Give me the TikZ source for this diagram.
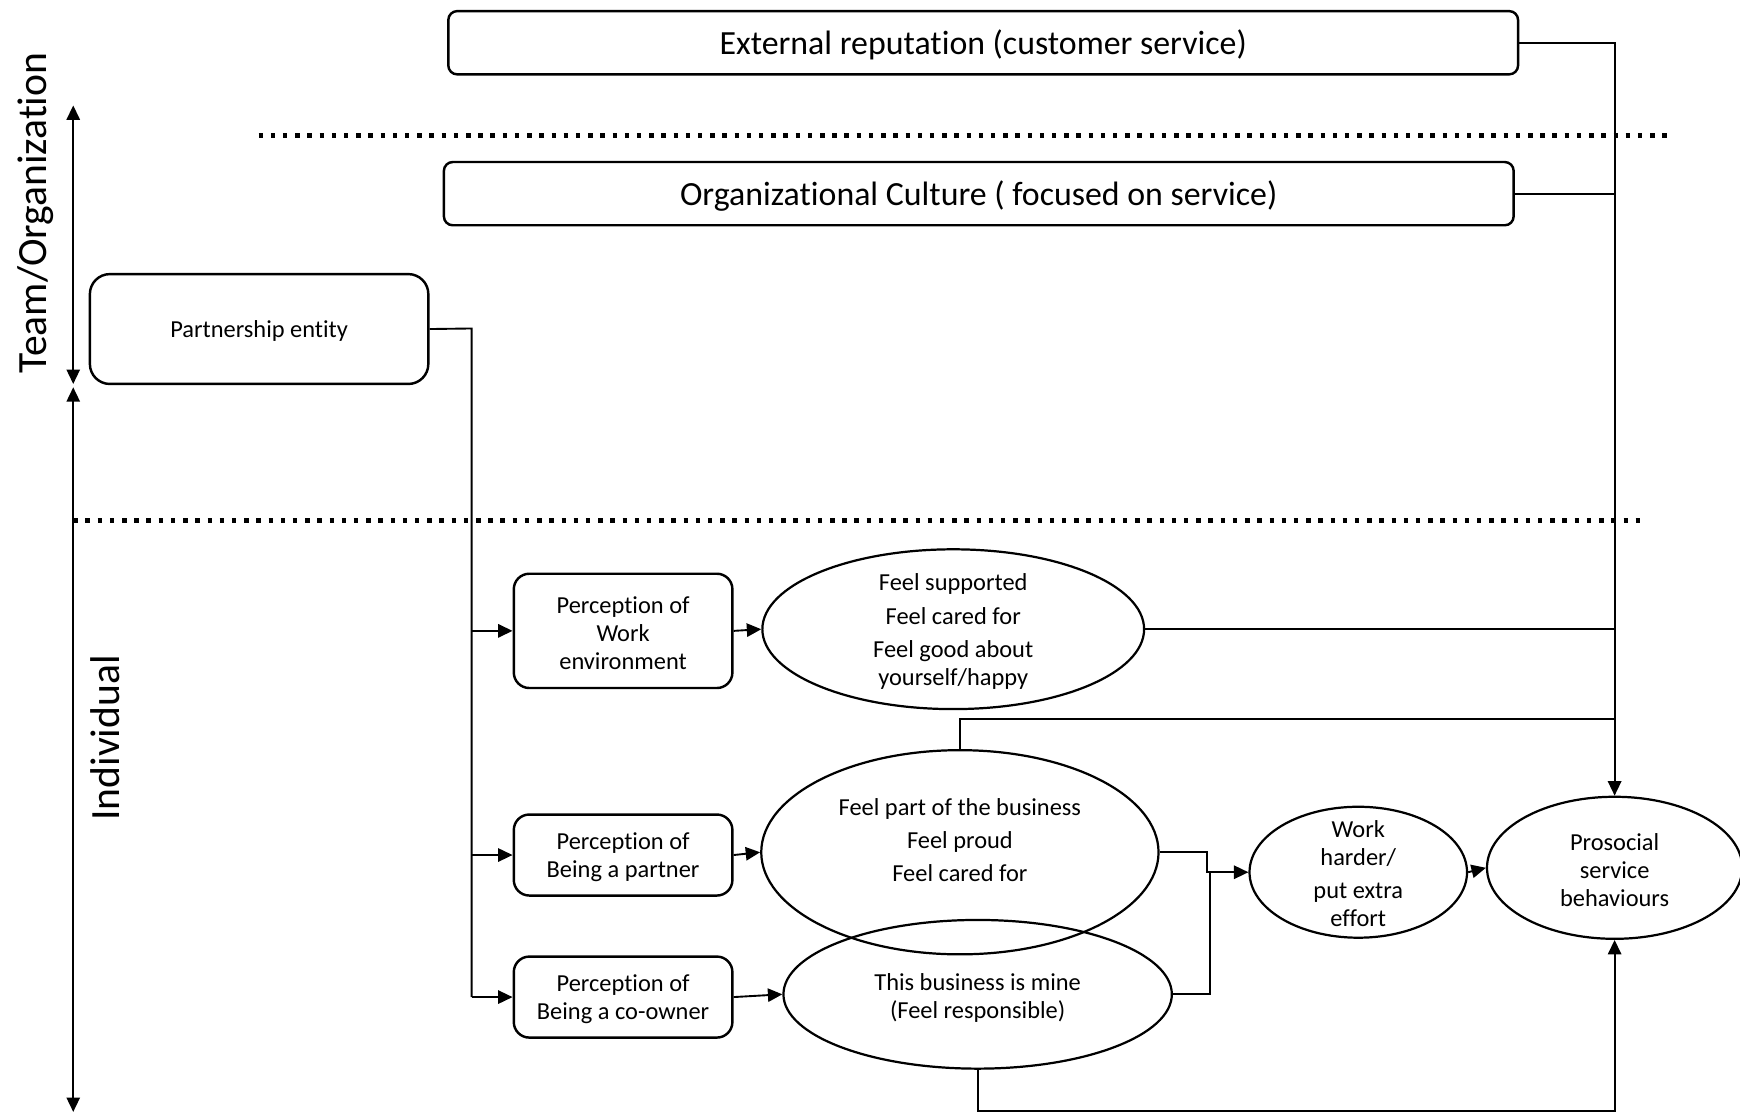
\documentclass[tikz,border=0pt]{standalone}
\usepackage{fontspec}
\setmainfont{Carlito}[Ligatures=NoCommon]
\usetikzlibrary{arrows.meta,shapes.geometric}
\begin{document}
\begin{tikzpicture}[x=1pt,y=-1pt,
  box/.style={draw,line width=2.2pt,rounded corners=8pt,inner sep=0pt},
  ell/.style={draw,ellipse,line width=2pt,inner sep=0pt},
  conn/.style={line width=1.7pt},
  tip/.tip={Triangle[length=13pt,width=12pt]},
  arr/.style={conn,-tip},
  small/.style={font=\fontsize{22}{25}\selectfont,align=center,yshift=-2pt},
  big/.style={font=\fontsize{30.5}{36}\selectfont,yshift=-2pt},
  side/.style={rotate=90,font=\fontsize{37.5}{42}\selectfont},
  dotline/.style={line width=4pt,dash pattern=on 4pt off 7pt},
]
\useasboundingbox (0,0) rectangle (1568,1005);

% level labels and axis arrows
\node[side] (lteam) at (32,192) {Team/Organization};
\node[side] (lind) at (95,665) {Individual};
\coordinate (a1) at (66,95);
\coordinate (a2) at (66,346);
\coordinate (a3) at (66,349);
\coordinate (a4) at (66,1002);
\draw[conn,tip-tip] (a1) -- (a2);
\draw[conn,tip-tip] (a3) -- (a4);

% dotted separators
\draw[dotline] (233,122) -- (1506,122);
\draw[dotline] (66,469) -- (1480,469);

% top boxes
\node[box,minimum width=964pt,minimum height=57pt,label={[big]center:External reputation (customer service)}] (ext) at (886,38.5) {};
\node[box,minimum width=964pt,minimum height=57pt,label={[big]center:Organizational Culture ( focused on service)}] (org) at (882,174.5) {};
\node[box,rounded corners=18pt,minimum width=305pt,minimum height=99pt,label={[small]center:Partnership entity}] (pent) at (233.5,296.5) {};

% perception boxes
\node[box,rounded corners=14pt,minimum width=197pt,minimum height=103pt,label={[small]center:{Perception of\\Work\\environment}}] (pwe) at (561.5,568.5) {};
\node[box,rounded corners=14pt,minimum width=197pt,minimum height=73pt,label={[small]center:{Perception of\\Being a partner}}] (pbp) at (561.5,770.5) {};
\node[box,rounded corners=14pt,minimum width=197pt,minimum height=73pt,label={[small]center:{Perception of\\Being a co-owner}}] (pco) at (561.5,898.5) {};

% ellipses
\node[ell,minimum width=344pt,minimum height=144pt] (sup) at (859,567) {};
\node[small] (tsup) at (859,567) {Feel supported\\[5pt]Feel cared for\\[5pt]Feel good about\\yourself/happy};
\node[ell,minimum width=358pt,minimum height=184pt] (part) at (865,768) {};
\node[small] (tpart) at (865,755) {Feel part of the business\\[5pt]Feel proud\\[5pt]Feel cared for};
\node[ell,minimum width=350pt,minimum height=134pt] (mine) at (881,896) {};
\node[small] (tmine) at (881,897) {This business is mine\\(Feel responsible)};
\node[ell,minimum width=196pt,minimum height=118pt] (work) at (1224,786) {};
\node[small] (twork) at (1224,785) {Work\\harder/\\[5pt]put extra\\effort};
\node[ell,minimum width=230pt,minimum height=128pt] (pro) at (1455,782) {};
\node[small] (tpro) at (1455,782) {Prosocial\\service\\behaviours};

% partnership branches
\coordinate (bus) at (425,296);
\draw[conn] (pent.east) -- (bus) -- (bus |- pco.west);
\draw[arr] (bus |- pwe.west) -- (pwe.west);
\draw[arr] (bus |- pbp.west) -- (pbp.west);
\draw[arr] (bus |- pco.west) -- (pco.west);

% perception to feelings
\draw[arr] (pwe.east) -- (sup.west);
\draw[arr] (pbp.east) -- (part.west);
\draw[arr] (pco.east) -- (mine.west);

% to work harder
\draw[arr] (part.east) -- ++(43,0) |- (work.west);
\coordinate (j2) at (1090,786);
\draw[conn] (mine.east) -| (j2);
\draw[arr] (work.east) -- (pro.west);

% trunk into prosocial
\draw[arr] (ext.east) -| (pro.north);
\draw[conn] (org.east) -- (org.east -| pro.north);
\draw[conn] (sup.east) -- (sup.east -| pro.north);
\coordinate (fpturn) at (1455,648);
\draw[conn] (part.north) |- (fpturn);
\draw[arr] (mine.south) -- ++(0,37) -| (pro.south);
\end{tikzpicture}
\end{document}
